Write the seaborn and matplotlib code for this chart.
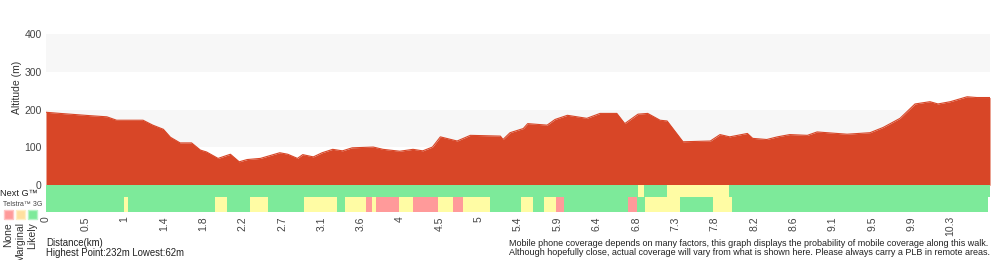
import numpy as np
import pandas as pd
import matplotlib
matplotlib.use("Agg")
import matplotlib.pyplot as plt
import seaborn as sns

# elevation profile (km, m)
dist_km = [0.0, 0.16, 0.50, 0.69, 0.80, 1.10, 1.21, 1.33, 1.41, 1.52, 1.65, 1.75, 1.82,
           1.95, 2.09, 2.19, 2.28, 2.43, 2.65, 2.74, 2.85, 2.91, 3.03, 3.13, 3.25, 3.36,
           3.47, 3.71, 3.82, 4.01, 4.16, 4.27, 4.38, 4.47, 4.66, 4.81, 5.15, 5.18, 5.26,
           5.41, 5.46, 5.68, 5.77, 5.91, 6.13, 6.28, 6.47, 6.56, 6.71, 6.82, 6.96, 7.04,
           7.22, 7.53, 7.64, 7.75, 7.95, 8.01, 8.17, 8.29, 8.43, 8.63, 8.74, 9.08, 9.34,
           9.49, 9.68, 9.85, 10.02, 10.11, 10.25, 10.44, 10.55, 10.70]
alt_m = [193, 190, 184, 181, 172, 172, 159, 148, 127, 112, 112, 93, 88,
         71, 82, 62, 68, 71, 86, 82, 71, 81, 75, 86, 95, 91,
         99, 101, 95, 90, 95, 91, 101, 128, 117, 132, 130, 121, 139,
         150, 163, 159, 174, 185, 177, 190, 190, 163, 188, 190, 172, 170,
         115, 117, 134, 128, 137, 124, 121, 128, 134, 132, 141, 135, 139,
         153, 177, 215, 221, 215, 221, 234, 232, 232]

total_km = 10.7
tick_labels = ["0", "0.5", "1", "1.4", "1.8", "2.2", "2.7", "3.1", "3.6", "4", "4.5", "5",
               "5.4", "5.9", "6.4", "6.8", "7.3", "7.8", "8.2", "8.6", "9.1", "9.5", "9.9", "10.3"]

# coverage segments (start km, end km, level) on top of "likely" background
nextg_start = [6.71, 7.04]
nextg_end = [6.78, 7.74]
nextg_level = ["Marginal", "Marginal"]

g3_start = [0.88, 1.92, 2.31, 2.92, 3.39, 3.63, 3.70, 3.74, 4.00, 4.16, 4.44, 4.61, 4.73,
            5.38, 5.64, 5.78, 6.60, 6.79, 7.56]
g3_end = [0.93, 2.05, 2.52, 3.30, 3.63, 3.70, 3.74, 4.00, 4.16, 4.44, 4.61, 4.73, 5.03,
          5.52, 5.78, 5.87, 6.70, 7.19, 7.78]
g3_level = ["Marginal", "Marginal", "Marginal", "Marginal", "Marginal", "None", "Marginal",
            "None", "Marginal", "None", "Marginal", "None", "Marginal",
            "Marginal", "Marginal", "None", "None", "Marginal", "Marginal"]

level_colors = {"None": "#ff9a9a", "Marginal": "#fffca4", "Likely": "#7dea9a"}
terrain = "#d84627"

sns.set_style("white")
plt.rcParams["font.family"] = ["Liberation Sans", "DejaVu Sans"]

fig = plt.figure(figsize=(10, 2.6), dpi=100)
ax = fig.add_axes([0.046, 0.1846, 0.944, 0.6846])

px = 400 / 151  # metres per pixel on the altitude scale
row1 = (-11.7 * px, 11.7 * px)
row2 = (-26.7 * px, 15 * px)

ax.axhspan(100, 200, color="#f7f7f7", lw=0, zorder=0)
ax.axhspan(300, 400, color="#f7f7f7", lw=0, zorder=0)

prof = pd.DataFrame({"km": dist_km, "alt": alt_m})
ax.fill_between(prof["km"], 0, prof["alt"], color=terrain, lw=0, zorder=2)
sns.lineplot(data=prof, x="km", y="alt", color=terrain, lw=0.8, ax=ax, zorder=2)

# coverage rows
ax.broken_barh([(0, total_km)], row1, color=level_colors["Likely"], lw=0, zorder=3)
ax.broken_barh([(0, total_km - 0.02)], row2, color=level_colors["Likely"], lw=0, zorder=3)
for s, e, lv in zip(nextg_start, nextg_end, nextg_level):
    ax.broken_barh([(s, e - s)], row1, color=level_colors[lv], lw=0, zorder=4)
for s, e, lv in zip(g3_start, g3_end, g3_level):
    ax.broken_barh([(s, e - s)], row2, color=level_colors[lv], lw=0, zorder=4)

ax.set_xlim(0, total_km)
ax.set_ylim(row2[0], 400)
ax.set_xticks(np.arange(len(tick_labels)) * total_km / 24)
ax.set_xticklabels(tick_labels, rotation=90, fontsize=7.5, color="#444444")
ax.set_yticks([0, 100, 200, 300, 400])
ax.set_yticklabels(["0", "100", "200", "300", "400"], fontsize=7.5, color="#444444")
ax.tick_params(axis="x", length=0, pad=3)
ax.tick_params(axis="y", length=2, width=0.8, color="#666666", pad=1)
ax.set_xlabel("")
ax.set_ylabel("")
for sp in ax.spines.values():
    sp.set_visible(False)

fig.text(0.017, 0.665, "Altitude (m)", rotation=90, ha="center", va="center",
         fontsize=7.5, color="#333333")
fig.text(0.0, 1 - 193 / 260, "Next G\u2122", ha="left", va="center", fontsize=6.6,
         color="#222222")
fig.text(0.003, 1 - 204 / 260, "Telstra\u2122 3G", ha="left", va="center", fontsize=5,
         color="#444444")

legend_levels = ["None", "Marginal", "Likely"]
legend_fill = ["#ff9a9a", "#ffe0a0", "#7dea9a"]
legend_edge = ["#ffc4c4", "#fff0c8", "#b8f4c8"]
for i, (lv, fc, ec) in enumerate(zip(legend_levels, legend_fill, legend_edge)):
    x0 = 4 + i * 12
    fig.patches.append(plt.Rectangle((x0 / 1000, 1 - 219 / 260), 9 / 1000, 9 / 260,
                                     facecolor=fc, edgecolor=ec, lw=1,
                                     transform=fig.transFigure, figure=fig))
    fig.text((x0 + 4.5) / 1000, 1 - 222 / 260, lv, rotation=90, ha="center", va="top",
             fontsize=7.5, color="#333333")

fig.text(0.046, 1 - 243 / 260, "Distance(km)", ha="left", va="center", fontsize=6.9,
         color="#222222")
fig.text(0.046, 1 - 253 / 260, "Highest Point:232m Lowest:62m", ha="left", va="center",
         fontsize=6.9, color="#222222")
fig.text(0.509, 1 - 248 / 260,
         "Mobile phone coverage depends on many factors, this graph displays the probability of mobile coverage along this walk.\n"
         "Although hopefully close, actual coverage will vary from what is shown here. Please always carry a PLB in remote areas.",
         ha="left", va="center", fontsize=6.5, color="#222222", linespacing=1.1)

fig.savefig("out.png", dpi=100)
